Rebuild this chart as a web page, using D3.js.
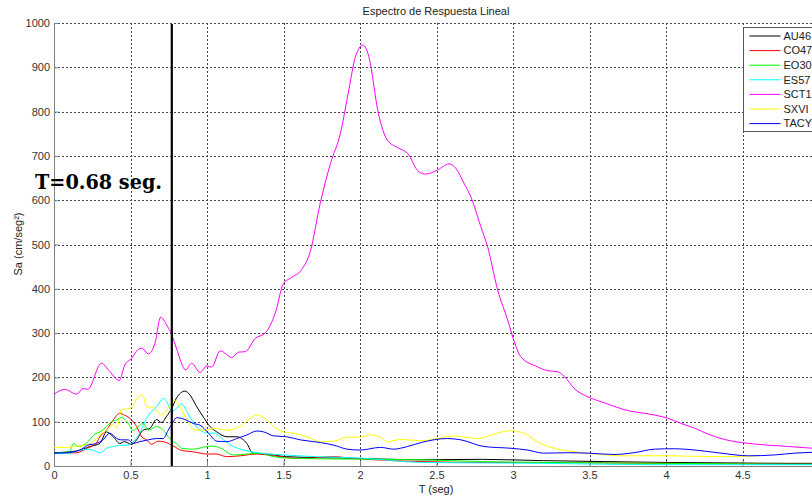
<!DOCTYPE html>
<html>
<head>
<meta charset="utf-8">
<script src="https://cdn.jsdelivr.net/npm/d3@7"></script>
<style>
  body { margin: 0; background: #fff; }
  svg { display: block; font-family: "Liberation Sans", Arial, sans-serif; }
</style>
</head>
<body>
<div id="chart"></div>
<script>
// tick values
const xTicks = [0, 0.5, 1, 1.5, 2, 2.5, 3, 3.5, 4, 4.5];
const yTicks = [0, 100, 200, 300, 400, 500, 600, 700, 800, 900, 1000];

const markerT = 0.77;
const markerLabel = "T=0.68 seg.";

// AU46
const au46T  = [0, 0.149, 0.234, 0.30, 0.343, 0.387, 0.43, 0.46, 0.507, 0.54, 0.583, 0.627, 0.67, 0.704, 0.737, 0.77, 0.80, 0.856, 0.88, 0.933, 0.977, 1.02, 1.064, 1.13, 1.195, 1.26, 1.30, 1.39, 1.52, 1.72, 2.0, 2.4, 2.8, 3.2, 3.6, 4.0, 4.4, 4.8, 4.96];
const au46Sa = [30, 34, 44, 51, 77, 66, 51, 55, 49, 59, 81, 85, 105, 98, 113, 130, 153, 169, 164, 134, 110, 89, 77, 66, 66, 51, 29, 27, 21, 19, 17, 14, 15, 12, 10, 8, 7, 6, 6];

// CO47
const co47T  = [0, 0.149, 0.21, 0.278, 0.30, 0.343, 0.387, 0.43, 0.46, 0.507, 0.54, 0.573, 0.605, 0.638, 0.68, 0.714, 0.78, 0.835, 0.91, 1.0, 1.06, 1.13, 1.217, 1.326, 1.435, 1.61, 1.83, 1.96, 2.1, 2.4, 2.8, 3.2, 3.6, 4.0, 4.4, 4.8, 4.96];
const co47Sa = [28, 30, 39, 53, 66, 81, 104, 119, 115, 104, 89, 66, 59, 49, 56, 55, 45, 35, 32, 27, 27, 21, 23, 27, 23, 17, 21, 17, 14, 10, 8, 8, 7, 6, 5, 4, 4];

// EO30
const eo30T  = [0, 0.1, 0.129, 0.155, 0.21, 0.267, 0.30, 0.343, 0.376, 0.41, 0.44, 0.485, 0.518, 0.55, 0.583, 0.616, 0.67, 0.714, 0.747, 0.78, 0.80, 0.835, 0.91, 1.0, 1.04, 1.09, 1.173, 1.35, 1.435, 1.61, 1.83, 2.4, 2.8, 3.2, 3.6, 4.0, 4.4, 4.8, 4.96];
const eo30Sa = [29, 32, 51, 44, 51, 72, 77, 89, 100, 104, 110, 96, 80, 89, 96, 81, 89, 81, 66, 55, 51, 40, 38, 44, 45, 40, 25, 29, 21, 17, 16, 14, 10, 8, 7, 6, 5, 4, 4];

// ES57
const es57T  = [0, 0.1, 0.17, 0.23, 0.30, 0.343, 0.387, 0.43, 0.47, 0.518, 0.56, 0.605, 0.638, 0.68, 0.714, 0.737, 0.77, 0.80, 0.835, 0.868, 0.90, 0.955, 1.01, 1.05, 1.107, 1.173, 1.24, 1.326, 1.50, 1.72, 2.0, 2.4, 2.8, 3.2, 3.6, 4.0, 4.4, 4.8, 4.96];
const es57Sa = [28, 29, 36, 38, 30, 40, 44, 47, 47, 55, 74, 108, 123, 138, 153, 145, 123, 130, 140, 123, 104, 81, 74, 74, 59, 44, 36, 30, 25, 21, 18, 8, 7, 6, 4, 3, 3, 3, 3];

// SCT1
const sct1T  = [0, 0.07, 0.149, 0.19, 0.22, 0.31, 0.365, 0.426, 0.463, 0.507, 0.55, 0.573, 0.616, 0.66, 0.697, 0.737, 0.77, 0.80, 0.861, 0.90, 0.955, 0.999, 1.03, 1.086, 1.162, 1.206, 1.25, 1.315, 1.38, 1.446, 1.50, 1.545, 1.62, 1.675, 1.74, 1.807, 1.872, 1.927, 1.97, 2.02, 2.058, 2.12, 2.178, 2.244, 2.31, 2.385, 2.43, 2.506, 2.582, 2.626, 2.68, 2.724, 2.79, 2.834, 2.9, 2.965, 3.02, 3.05, 3.16, 3.227, 3.29, 3.336, 3.40, 3.49, 3.576, 3.66, 3.75, 3.84, 3.925, 4.01, 4.10, 4.19, 4.275, 4.36, 4.45, 4.54, 4.67, 4.80, 4.96];
const sct1Sa = [162, 173, 162, 175, 173, 232, 213, 193, 228, 243, 263, 266, 253, 277, 336, 318, 296, 266, 217, 232, 211, 226, 223, 260, 245, 257, 258, 288, 300, 345, 412, 424, 444, 484, 593, 683, 751, 849, 924, 950, 924, 796, 736, 719, 706, 664, 659, 668, 682, 672, 638, 608, 540, 495, 397, 330, 269, 247, 224, 215, 213, 202, 175, 156, 145, 135, 125, 120, 115, 108, 96, 85, 72, 62, 55, 51, 47, 44, 40];

// SXVI
const sxviT  = [0, 0.08, 0.147, 0.21, 0.256, 0.30, 0.343, 0.387, 0.41, 0.44, 0.507, 0.55, 0.579, 0.605, 0.649, 0.704, 0.737, 0.78, 0.824, 0.868, 0.922, 1.0, 1.04, 1.13, 1.217, 1.27, 1.326, 1.37, 1.435, 1.50, 1.566, 1.654, 1.74, 1.83, 1.916, 2.0, 2.07, 2.134, 2.18, 2.265, 2.40, 2.506, 2.615, 2.77, 2.877, 2.986, 3.07, 3.18, 3.27, 3.40, 3.576, 3.707, 4.01, 4.36, 4.61];
const sxviSa = [42, 42, 45, 47, 55, 70, 81, 93, 85, 126, 132, 156, 160, 134, 132, 115, 126, 149, 134, 104, 81, 81, 85, 81, 89, 104, 115, 110, 89, 77, 74, 66, 55, 56, 65, 65, 70, 65, 55, 60, 57, 62, 68, 62, 72, 80, 74, 51, 40, 32, 26, 23, 23, 21, 23];

// TACY
const tacyT  = [0, 0.08, 0.168, 0.22, 0.278, 0.32, 0.365, 0.41, 0.44, 0.485, 0.518, 0.56, 0.616, 0.67, 0.714, 0.747, 0.78, 0.80, 0.856, 0.91, 0.955, 1.01, 1.064, 1.13, 1.195, 1.26, 1.326, 1.37, 1.435, 1.52, 1.61, 1.74, 1.83, 1.916, 2.0, 2.134, 2.22, 2.31, 2.40, 2.57, 2.66, 2.81, 2.986, 3.096, 3.20, 3.36, 3.49, 3.66, 3.79, 3.925, 4.056, 4.19, 4.36, 4.54, 4.71, 4.84, 4.96];
const tacySa = [29, 30, 36, 47, 51, 59, 74, 62, 59, 59, 51, 55, 59, 62, 62, 81, 100, 109, 105, 96, 92, 74, 56, 55, 62, 70, 79, 77, 68, 66, 59, 53, 47, 38, 36, 42, 38, 44, 53, 62, 59, 44, 40, 36, 29, 30, 29, 26, 30, 38, 39, 36, 29, 23, 25, 29, 31];

const seriesNames  = ["AU46", "CO47", "EO30", "ES57", "SCT1", "SXVI", "TACY"];
const seriesColors = ["#000000", "#ff0000", "#00ff00", "#00ffff", "#ff00ff", "#ffff00", "#0000ff"];
const seriesT  = [au46T, co47T, eo30T, es57T, sct1T, sxviT, tacyT];
const seriesSa = [au46Sa, co47Sa, eo30Sa, es57Sa, sct1Sa, sxviSa, tacySa];

const margin = {top: 23, right: 0, bottom: 31, left: 54};
const width = 765;      // axes run past the right edge of the picture
const height = 443;

const root = d3.select("#chart")
    .append("svg")
    .attr("width", 812)
    .attr("height", 497);

const svg = root.append("g")
    .attr("transform", "translate(" + margin.left + "," + margin.top + ")");

const x = d3.scaleLinear().domain([0, 5]).range([0, width]);
const y = d3.scaleLinear().domain([0, 1000]).range([height, 0]);

// grid
svg.append("g")
    .selectAll("line")
    .data(xTicks.filter(d => d > 0))
    .join("line")
    .attr("x1", d => Math.round(x(d)) + 0.5)
    .attr("x2", d => Math.round(x(d)) + 0.5)
    .attr("y1", 0)
    .attr("y2", height)
    .attr("stroke", "#444")
    .attr("stroke-dasharray", "2,2");

svg.append("g")
    .selectAll("line")
    .data(yTicks.filter(d => d > 0))
    .join("line")
    .attr("x1", 0)
    .attr("x2", width)
    .attr("y1", d => Math.round(y(d)) + 0.5)
    .attr("y2", d => Math.round(y(d)) + 0.5)
    .attr("stroke", "#444")
    .attr("stroke-dasharray", "2,2");

// axes, MATLAB style ticks pointing inward
const xAxis = d3.axisBottom(x).tickValues(xTicks).tickSize(-5).tickPadding(5).tickFormat(d3.format("~g"));
const yAxis = d3.axisLeft(y).tickValues(yTicks).tickSize(-5).tickPadding(4).tickFormat(d3.format("d"));

const gx = svg.append("g")
    .attr("transform", "translate(0," + height + ")")
    .call(xAxis);

const gy = svg.append("g")
    .call(yAxis);

[gx, gy].forEach(g => {
    g.select(".domain").attr("stroke", "#808080");
    g.selectAll(".tick line").attr("stroke", "#808080");
    g.selectAll(".tick text")
        .attr("fill", "#333")
        .style("font-size", "11px")
        .style("font-family", "Liberation Sans, Arial, sans-serif");
});

// spectra
const line = d3.line()
    .x(d => x(d[0]))
    .y(d => y(d[1]))
    .curve(d3.curveMonotoneX);

seriesNames.forEach((name, i) => {
    const pts = seriesT[i].map((t, j) => [t, seriesSa[i][j]]);
    svg.append("path")
        .datum(pts)
        .attr("fill", "none")
        .attr("stroke", seriesColors[i])
        .attr("stroke-width", 1)
        .attr("d", line);
});

// period marker
svg.append("line")
    .attr("x1", x(markerT))
    .attr("x2", x(markerT))
    .attr("y1", 1)
    .attr("y2", height)
    .attr("stroke", "#000")
    .attr("stroke-width", 2.2);

svg.append("text")
    .attr("x", -19)
    .attr("y", 166)
    .attr("textLength", 127)
    .attr("lengthAdjust", "spacingAndGlyphs")
    .style("font-family", "DejaVu Serif, serif")
    .style("font-weight", "bold")
    .style("font-size", "21px")
    .attr("fill", "#000")
    .text(markerLabel);

// titles
root.append("text")
    .attr("x", 436)
    .attr("y", 15)
    .attr("text-anchor", "middle")
    .attr("fill", "#222")
    .style("font-size", "11px")
    .text("Espectro de Respuesta Lineal");

root.append("text")
    .attr("x", 436)
    .attr("y", 493)
    .attr("text-anchor", "middle")
    .attr("fill", "#222")
    .style("font-size", "11px")
    .text("T (seg)");

root.append("text")
    .attr("transform", "translate(22,244) rotate(-90)")
    .attr("text-anchor", "middle")
    .attr("fill", "#222")
    .style("font-size", "11px")
    .text("Sa (cm/seg²)");

// legend
const legend = root.append("g")
    .attr("transform", "translate(743.5,27.5)");

legend.append("rect")
    .attr("width", 90)
    .attr("height", 104)
    .attr("fill", "#fff")
    .attr("stroke", "#555");

const items = legend.selectAll("g.item")
    .data(seriesNames)
    .join("g")
    .attr("class", "item")
    .attr("transform", (d, i) => "translate(0," + (8.5 + i * 14.6) + ")");

items.append("line")
    .attr("x1", 6)
    .attr("x2", 37)
    .attr("stroke", (d, i) => seriesColors[i]);

items.append("text")
    .attr("x", 40)
    .attr("dy", "0.35em")
    .attr("fill", "#222")
    .style("font-size", "11px")
    .text(d => d);
</script>
</body>
</html>
